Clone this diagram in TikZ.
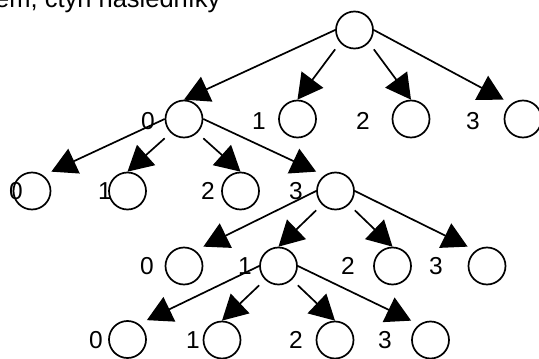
\documentclass[tikz,border=0pt]{standalone}
\usepackage{fontspec}
\setmainfont{Liberation Sans}
\usetikzlibrary{arrows.meta}
\begin{document}
\begin{tikzpicture}[x=1pt,y=-1pt,
  st/.style={circle,draw,line width=1.7pt,minimum size=37pt,inner sep=0pt},
  lbl/.style={inner sep=0pt,font=\fontsize{24.5}{29}\selectfont},
  conn/.style={line width=1.7pt,-{Triangle[length=25pt,width=27pt]}}]
\useasboundingbox (0,0) rectangle (539,359);
\node[lbl,anchor=base west,font=\fontsize{25.5}{30}\selectfont] (title) at (-5,7.5) {em, čtyři následníky};
% nodes
\node[st] (R) at (354.5,30) {};
\node[st] (A0) at (184,119) {};
\node[st] (A1) at (297.5,119) {};
\node[st] (A2) at (411,119) {};
\node[st] (A3) at (523,119) {};
\node[st] (B0) at (32,191) {};
\node[st] (B1) at (127.5,191) {};
\node[st] (B2) at (240.5,191) {};
\node[st] (B3) at (335.5,191) {};
\node[st] (C0) at (184,266) {};
\node[st] (C1) at (278.5,266) {};
\node[st] (C2) at (392.5,266) {};
\node[st] (C3) at (487,266) {};
\node[st] (D0) at (127.5,339.5) {};
\node[st] (D1) at (222,340) {};
\node[st] (D2) at (335,340) {};
\node[st] (D3) at (430.5,340) {};
% labels
\node[lbl] (lA0) at (148,121) {0};
\node[lbl] (lA1) at (259,121) {1};
\node[lbl] (lA2) at (363,121) {2};
\node[lbl] (lA3) at (473,121) {3};
\node[lbl] (lB0) at (16,191) {0};
\node[lbl] (lB1) at (105,191) {1};
\node[lbl] (lB2) at (208,191) {2};
\node[lbl] (lB3) at (296,191) {3};
\node[lbl] (lC0) at (147,266) {0};
\node[lbl] (lC1) at (245,266) {1};
\node[lbl] (lC2) at (348,266) {2};
\node[lbl] (lC3) at (436,266) {3};
\node[lbl] (lD0) at (96,340) {0};
\node[lbl] (lD1) at (193,340) {1};
\node[lbl] (lD2) at (296,340) {2};
\node[lbl] (lD3) at (385,340) {3};
% connectors
\draw[conn] (R.west) -- (A0.north);
\draw[conn] (R.west |- R.south) -- (A1.north);
\draw[conn] (R.east |- R.south) -- (A2.north);
\draw[conn] (R.east) -- (A3.west |- A3.north);
\draw[conn] (A0.west) -- (B0.east |- B0.north);
\draw[conn] (A0.west |- A0.south) -- (B1.north);
\draw[conn] (A0.east |- A0.south) -- (B2.north);
\draw[conn] (A0.east) -- (B3.west |- B3.north);
\draw[conn] (B3.west) -- (C0.east |- C0.north);
\draw[conn] (B3.west |- B3.south) -- (C1.north);
\draw[conn] (B3.east |- B3.south) -- (C2.north);
\draw[conn] (B3.east) -- (C3.west |- C3.north);
\draw[conn] (C1.west) -- (D0.east |- D0.north);
\draw[conn] (C1.west |- C1.south) -- (D1.north);
\draw[conn] (C1.east |- C1.south) -- (D2.north);
\draw[conn] (C1.east) -- (D3.west |- D3.north);
\end{tikzpicture}
\end{document}
